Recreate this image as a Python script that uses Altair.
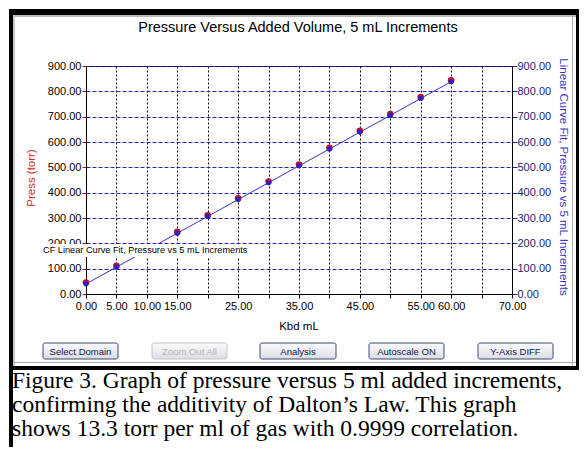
import altair as alt
import pandas as pd

# ---------------- data ----------------
ml = [0, 5, 15, 20, 25, 30, 35, 40, 45, 50, 55, 60]
press = [45, 111, 245, 311, 378, 444, 511, 577, 644, 710, 777, 843]
fit = [40, 106, 240, 306, 373, 439, 506, 572, 639, 705, 772, 838]
x_ticks = [0, 5, 10, 15, 20, 25, 30, 35, 40, 45, 50, 55, 60, 65, 70]
x_labels_shown = [0, 5, 10, 15, 25, 35, 45, 55, 60, 70]
y_ticks = [0, 100, 200, 300, 400, 500, 600, 700, 800, 900]

title_text = "Pressure Versus Added Volume, 5 mL Increments"
x_title = "Kbd mL"
left_title = "Press (torr)"
right_title = "Linear Curve Fit, Pressure vs 5 mL Increments"
legend_text = "CF Linear Curve Fit, Pressure vs 5 mL Increments"
buttons = ["Select Domain", "Zoom Out All", "Analysis", "Autoscale ON", "Y-Axis DIFF"]
caption = [
    "Figure 3. Graph of pressure versus 5 ml added increments,",
    "confirming the additivity of Dalton\u2019s Law. This graph",
    "shows 13.3 torr per ml of gas with 0.9999 correlation.",
]

df = pd.DataFrame({"ml": ml, "press": press, "fit": fit})
one = pd.DataFrame({"k": [0]})

SANS = "Liberation Sans"
SERIF = "Liberation Serif"

# plot origin on page is (86, 66)
OX, OY = 86, 66
W, H = 426, 228


def R(X):
    return X - OX


def T(Y):
    return Y - OY


def rect(x1, y1, x2, y2, fill, stroke=None, sw=0, radius=0):
    kw = dict(fill=fill, cornerRadius=radius)
    if stroke is not None:
        kw["stroke"] = stroke
        kw["strokeWidth"] = sw
    return alt.Chart(one).mark_rect(**kw).encode(
        x=alt.value(R(x1)), x2=alt.value(R(x2)),
        y=alt.value(T(y1)), y2=alt.value(T(y2)))


def text(X, Y, s, size=11, color="#000", font=SANS, align="center",
         baseline="middle", angle=0, weight="normal"):
    return alt.Chart(one).mark_text(
        text=s, fontSize=size, color=color, font=font, align=align,
        baseline=baseline, angle=angle, fontWeight=weight).encode(
        x=alt.value(R(X)), y=alt.value(T(Y)))


label_expr = ("indexof(" + str(x_labels_shown) +
              ", datum.value) >= 0 ? format(datum.value, '.2f') : ''")

x_enc = alt.X("ml:Q",
              scale=alt.Scale(domain=[0, 70], nice=False, zero=False),
              axis=alt.Axis(values=x_ticks, labelExpr=label_expr, title=None,
                            grid=True, gridColor="#000", gridDash=[2, 2],
                            gridWidth=1, domainColor="#000", tickColor="#000",
                            tickSize=4, labelFont=SANS, labelFontSize=11,
                            labelColor="#000", labelPadding=2,
                            labelOverlap=False, labelFlush=False))

yscale = alt.Scale(domain=[0, 900], nice=False, zero=True)

left_axis = alt.Axis(values=y_ticks, format=".2f", title=None, orient="left",
                     grid=True, gridColor="#2828a8", gridDash=[4, 2],
                     gridWidth=1, domainColor="#000", tickColor="#d00000",
                     tickSize=4, labelPadding=1, labelFont=SANS,
                     labelFontSize=11, labelColor="#000")
right_axis = alt.Axis(values=y_ticks, format=".2f", title=None, orient="right",
                      grid=False, domainColor="#000", tickColor="#2020b0",
                      tickSize=5, labelPadding=0, labelFont=SANS,
                      labelFontSize=11, labelColor="#1e1e6a")

line = alt.Chart(df).mark_line(color="#3535c8", strokeWidth=1).encode(
    x=x_enc, y=alt.Y("fit:Q", scale=yscale, axis=right_axis))
red = alt.Chart(df).mark_point(shape="circle", filled=True, size=44,
                               color="#c0102a", opacity=1).encode(
    x=x_enc, y=alt.Y("press:Q", scale=yscale, axis=left_axis))
blue = alt.Chart(df).mark_point(shape="circle", filled=True, size=26,
                                color="#2a20c8", opacity=1).encode(
    x=x_enc, y=alt.Y("fit:Q", scale=yscale, axis=None))

# ---------------- decorations ----------------
deco = [
    # frame
    rect(9, 9, 579, 15, "#000"),
    rect(13, 15, 576, 17, "#b8b8b8"),
    rect(9, 9, 13, 447, "#000"),
    rect(13, 15, 15, 366, "#c8c8c8"),
    rect(13, 362, 576, 363, "#a8a8a8"),
    rect(9, 366, 579, 370, "#000"),
    rect(572, 15, 573, 366, "#b0b0b0"),
    rect(576, 9, 579, 370, "#000"),
    # legend box in plot
    rect(40, 244, 251, 257, "#ffffff"),
    text(43, 250, legend_text, size=9.2, align="left"),
    # titles
    text(298, 28, title_text, size=14.5),
    text(299, 327, x_title, size=11.5),
    text(32, 178, left_title, size=11.5, color="#d03030", angle=270),
    text(563, 177, right_title, size=11.5, color="#3838c8", angle=90),
]

btn_x = [(43, 118), (152, 227), (260, 336), (369, 444), (478, 553)]
grad = alt.LinearGradient(gradient="linear",
                          stops=[alt.GradientStop(color="#fbfbfd", offset=0),
                                 alt.GradientStop(color="#dcdce6", offset=1)],
                          x1=0, x2=0, y1=0, y2=1)
for (bx1, bx2), lab in zip(btn_x, buttons):
    disabled = lab == "Zoom Out All"
    deco.append(rect(bx1, 343, bx2, 359, grad,
                     stroke="#c4c4c4" if disabled else "#3c4a6a", sw=1,
                     radius=2))
    deco.append(text((bx1 + bx2) / 2, 351.5, lab, size=9.5,
                     color="#b4b4b4" if disabled else "#14204a"))

for i, line_txt in enumerate(caption):
    deco.append(text(12, 388 + 24 * i, line_txt, size=23.5, font=SERIF,
                     align="left", baseline="alphabetic"))

chart = alt.layer(line, red, blue, *deco).resolve_scale(
    y="independent"
).properties(
    width=W, height=H,
    padding={"left": 78, "top": 58, "right": 67, "bottom": 153},
    autosize=alt.AutoSizeParams(type="none"),
).configure_view(stroke="#000", strokeWidth=1, fill="white")

chart.save("out.html", embed_options={"renderer": "svg", "actions": False})
